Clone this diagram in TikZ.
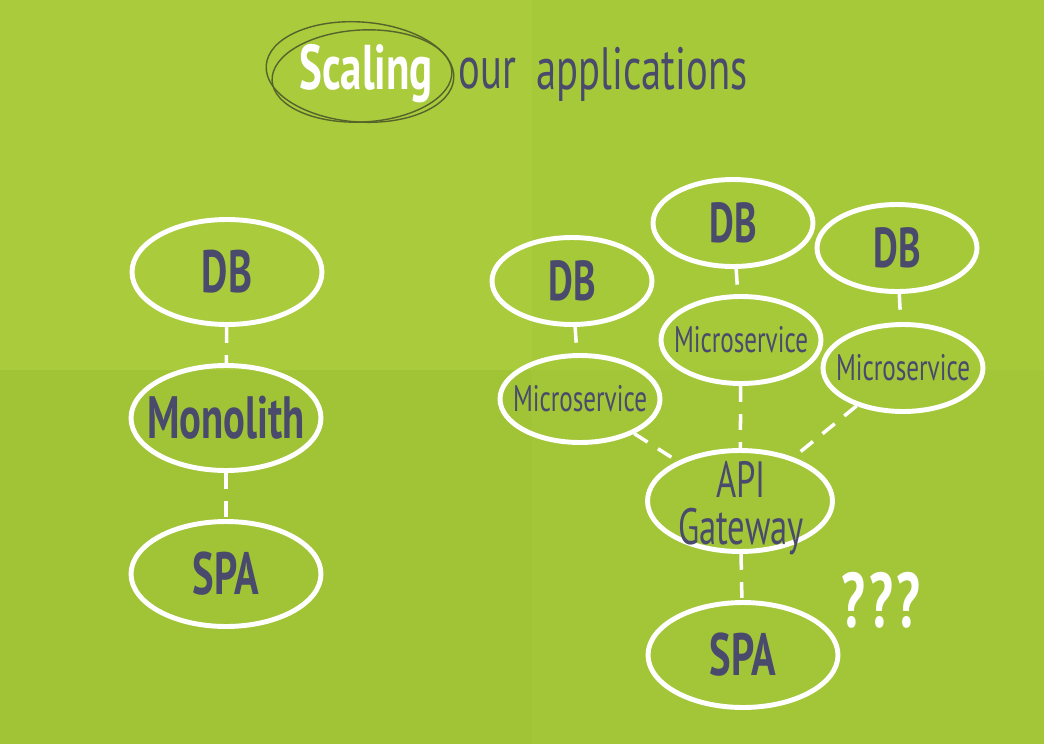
\documentclass[tikz,border=0pt]{standalone}
\usepackage{fontspec}
\setmainfont{PT Sans}
\newfontfamily\handfont[FakeStretch=0.68]{PT Sans}
\usetikzlibrary{shapes.geometric}
\definecolor{paperTop}{HTML}{A9CB3C}
\definecolor{paperTopR}{HTML}{A6C93A}
\definecolor{paperLow}{HTML}{A1C437}
\definecolor{paperLowR}{HTML}{A3C639}
\definecolor{inkSlate}{HTML}{4A4A6C}
\definecolor{inkOlive}{HTML}{56642C}
\tikzset{
  bubble/.style={ellipse, draw=white, line width=2.8pt, inner xsep=-0.4cm, inner ysep=-0.4cm, align=center, text=inkSlate},
  big/.style={bubble, minimum width=3.8cm, minimum height=2.1cm, font=\handfont\bfseries\fontsize{34}{36}\selectfont},
  small/.style={bubble, minimum width=3.2cm, minimum height=1.74cm, font=\handfont\bfseries\fontsize{32}{34}\selectfont},
  svc/.style={small, font=\handfont\fontsize{21}{22}\selectfont},
  link/.style={white, line width=2pt, dash pattern=on 9pt off 7pt},
  title/.style={font=\handfont\fontsize{34}{36}\selectfont, inner sep=0pt},
}
\begin{document}
\begin{tikzpicture}[x=0.02cm, y=-0.02cm]
  % folded sheet
  \fill[paperTop]  (0,0) rectangle (532,370);
  \fill[paperTopR] (532,0) rectangle (1044,370);
  \fill[paperLow]  (0,370) rectangle (532,744);
  \fill[paperLowR] (532,370) rectangle (1044,744);
  \useasboundingbox (0,0) rectangle (1044,744);

  % title
  \node[title, text=white, font=\handfont\bfseries\fontsize{36}{38}\selectfont] (scaling) at (366,74) {Scaling};
  \draw[inkOlive, line width=0.8pt, rotate around={-4:(360,72)}] (360,72) ellipse (94 and 50);
  \draw[inkOlive, line width=0.8pt, rotate around={3:(362,76)}] (362,76) ellipse (90 and 46);
  \node[title, text=inkSlate, anchor=west] (our) at (458,74) {our};
  \node[title, text=inkSlate, anchor=west] (apps) at (536,74) {applications};

  % monolith
  \node[big] (dbMono) at (227,272) {DB};
  \node[big] (mono) at (226,418) {Monolith};
  \node[big] (spaMono) at (226,574) {SPA};
  \draw[link] (dbMono) -- (mono);
  \draw[link] (mono) -- (spaMono);

  % microservices
  \node[small] (dbA) at (572,281) {DB};
  \node[small] (dbB) at (733,223) {DB};
  \node[small] (dbC) at (897,248) {DB};
  \node[svc] (msA) at (580,399) {Microservice};
  \node[svc] (msB) at (741,340) {Microservice};
  \node[svc] (msC) at (903,368) {Microservice};
  \node[big, minimum width=3.7cm, minimum height=2.02cm] (gw) at (740,501) {};
  \node[inner sep=0pt, align=center, text=inkSlate, font=\handfont\fontsize{29}{27}\selectfont] (gwText) at (741,508) {API\\Gateway};
  \node[big] (spaMicro) at (743,655) {SPA};
  \draw[link] (dbA) -- (msA);
  \draw[link] (dbB) -- (msB);
  \draw[link] (dbC) -- (msC);
  \draw[link] (msA) -- (gw);
  \draw[link] (msB) -- (gw);
  \draw[link] (msC) -- (gw);
  \draw[link] (gw) -- (spaMicro);

  % wondering
  \node[title, text=white, font=\handfont\bfseries\fontsize{44}{46}\selectfont] (qq) at (881,600) {?\kern2pt?\kern2pt?};
\end{tikzpicture}
\end{document}
